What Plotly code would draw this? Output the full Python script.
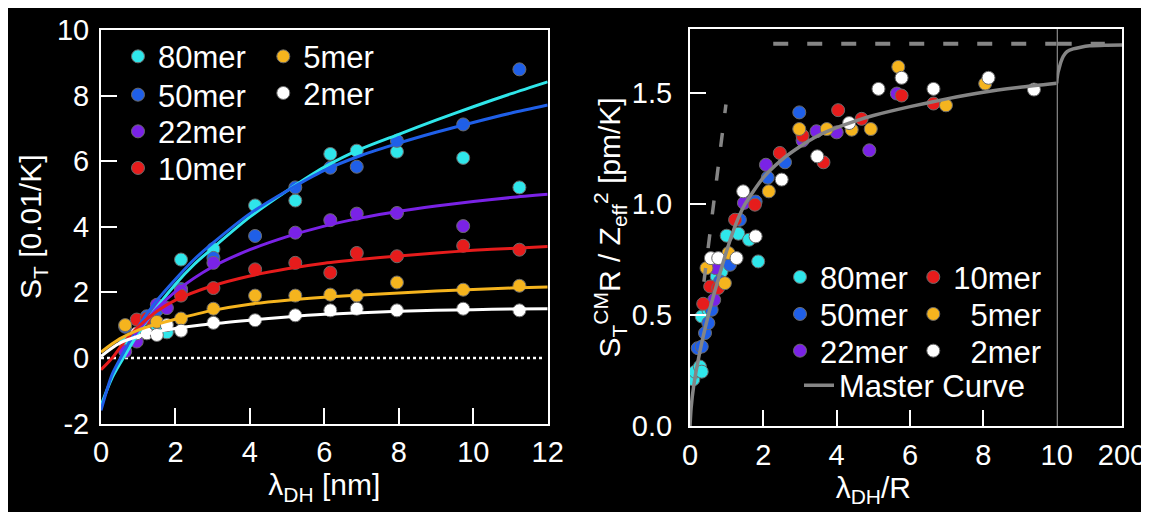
import plotly.graph_objects as go

# ---------------- data: left panel (S_T vs lambda_DH) ----------------
SERIES = ["80mer", "50mer", "22mer", "10mer", "5mer", "2mer"]
COLORS = ["#2fe6ea", "#1f5fe8", "#7a22e6", "#e61c1c", "#f5b41e", "#ffffff"]

pts80_x = [0.65, 1.5, 1.77, 2.15, 3.02, 4.14, 5.22, 6.16, 6.87, 7.95, 9.73, 11.24]
pts80_y = [0.47, 1.0, 0.78, 3.0, 3.32, 4.65, 4.8, 6.22, 6.32, 6.29, 6.1, 5.2]
pts50_x = [0.65, 1.23, 1.5, 2.15, 3.02, 4.14, 5.22, 6.16, 6.87, 7.95, 9.73, 11.24]
pts50_y = [0.95, 1.27, 1.45, 2.1, 3.05, 3.72, 5.2, 5.8, 5.83, 6.62, 7.12, 8.8]
pts22_x = [0.65, 0.96, 1.5, 1.77, 2.15, 3.02, 5.22, 6.16, 6.87, 7.95, 9.73]
pts22_y = [0.2, 0.5, 1.62, 1.52, 2.05, 2.9, 3.82, 4.2, 4.4, 4.42, 4.02]
pts10_x = [0.96, 1.23, 2.15, 3.02, 4.14, 5.22, 6.16, 6.87, 7.95, 9.73, 11.24]
pts10_y = [1.17, 1.2, 1.9, 2.13, 2.7, 2.9, 2.6, 3.2, 3.1, 3.42, 3.3]
pts5_x = [0.65, 1.5, 2.15, 3.02, 4.14, 5.22, 6.16, 6.87, 7.95, 9.73, 11.24]
pts5_y = [1.0, 1.1, 1.2, 1.5, 1.9, 1.9, 1.93, 1.9, 2.3, 2.08, 2.2]
pts2_x = [0.96, 1.23, 1.5, 1.77, 2.15, 3.02, 4.14, 5.22, 6.16, 6.87, 7.95, 9.73, 11.24]
pts2_y = [0.75, 0.75, 0.7, 1.0, 0.83, 1.07, 1.15, 1.3, 1.45, 1.5, 1.45, 1.5, 1.45]

fit80_x = [0, 0.3, 0.6, 1, 1.5, 2, 2.5, 3, 4, 5, 6, 7, 8, 9, 10, 11, 12]
fit80_y = [-1.45, -0.6, 0.0, 0.75, 1.55, 2.25, 2.85, 3.35, 4.3, 5.1, 5.82, 6.38, 6.82, 7.25, 7.66, 8.05, 8.42]
fit50_x = [0, 0.3, 0.6, 1, 1.5, 2, 2.5, 3, 4, 5, 6, 7, 8, 9, 10, 11, 12]
fit50_y = [-1.6, -0.5, 0.15, 0.95, 1.75, 2.4, 3.0, 3.5, 4.4, 5.1, 5.72, 6.18, 6.55, 6.88, 7.18, 7.46, 7.71]
fit22_x = [0.9, 1.5, 2, 3, 4, 5, 6, 7, 8, 9, 10, 11, 12]
fit22_y = [0.7, 1.5, 2.02, 2.78, 3.3, 3.7, 4.02, 4.27, 4.47, 4.63, 4.77, 4.89, 4.99]
fit10_x = [0, 0.3, 0.6, 1, 1.5, 2, 3, 4, 5, 6, 7, 8, 9, 10, 11, 12]
fit10_y = [-0.36, 0.0, 0.45, 0.95, 1.42, 1.76, 2.2, 2.5, 2.72, 2.89, 3.01, 3.11, 3.2, 3.28, 3.34, 3.4]
fit5_x = [0, 0.5, 1, 1.5, 2, 3, 4, 5, 6, 7, 8, 9, 10, 11, 12]
fit5_y = [0.18, 0.58, 0.85, 1.03, 1.18, 1.45, 1.64, 1.76, 1.85, 1.92, 1.98, 2.04, 2.09, 2.13, 2.16]
fit2_x = [0, 0.5, 1, 1.5, 2, 3, 4, 5, 6, 7, 8, 9, 10, 11, 12]
fit2_y = [0.05, 0.45, 0.66, 0.8, 0.9, 1.04, 1.15, 1.25, 1.33, 1.38, 1.42, 1.45, 1.47, 1.49, 1.5]

zero_x = [0, 11.88]
zero_y = [0, 0]

left_xticks = [0, 2, 4, 6, 8, 10, 12]
left_yticks = [-2, 0, 2, 4, 6, 8, 10]
left_yticktext = ["-2", "0", "2", "4", "6", "8", "10"]
left_ymarks = [2, 4, 6, 8]

# ---------------- data: right panel (master curve) ----------------
r80_x = [0.09, 0.14, 0.27, 0.32, 0.32, 0.50, 0.73, 0.86, 1.0, 1.32, 1.61, 1.86]
r80_y = [0.21, 0.245, 0.268, 0.245, 0.494, 0.524, 0.674, 0.697, 0.858, 0.867, 0.84, 0.742]
r50_x = [0.21, 0.32, 0.41, 0.50, 0.59, 0.82, 1.09, 1.36, 1.79, 2.12, 2.59, 2.98]
r50_y = [0.351, 0.358, 0.419, 0.464, 0.524, 0.652, 0.727, 0.93, 1.012, 1.12, 1.189, 1.414]
r22_x = [0.66, 0.70, 1.47, 2.07, 3.07, 3.45, 4.0, 4.89, 5.64]
r22_y = [0.569, 0.712, 1.006, 1.178, 1.287, 1.329, 1.324, 1.243, 1.499]
r10_x = [0.36, 0.55, 0.77, 1.23, 1.77, 2.45, 3.07, 3.64, 4.04, 4.68, 5.77, 6.64]
r10_y = [0.551, 0.629, 0.622, 0.93, 0.998, 1.231, 1.309, 1.189, 1.424, 1.385, 1.49, 1.454]
r5_x = [0.45, 0.95, 1.05, 2.15, 2.98, 3.73, 4.41, 4.93, 5.68, 6.98, 8.05]
r5_y = [0.712, 0.644, 0.78, 1.058, 1.339, 1.339, 1.336, 1.339, 1.619, 1.446, 1.544]
r2_x = [0.57, 0.77, 1.27, 1.45, 1.79, 2.5, 3.47, 4.34, 5.14, 5.77, 6.64, 8.14, 9.38]
r2_y = [0.757, 0.757, 0.757, 1.058, 0.855, 1.111, 1.216, 1.366, 1.52, 1.57, 1.52, 1.57, 1.517]

mc_x = [0, 0.03, 0.1, 0.25, 0.5, 0.75, 1.0, 1.25, 1.5, 2.0, 2.5, 3.0, 3.5, 4.0, 4.5, 5.0, 6.0, 7.0, 8.0, 9.0, 10.0]
mc_y = [0, 0.08, 0.18, 0.32, 0.5, 0.65, 0.79, 0.91, 1.0, 1.12, 1.2, 1.26, 1.31, 1.345, 1.375, 1.40, 1.44, 1.475, 1.505, 1.527, 1.545]
mc2_x = [10, 11, 14, 17.5, 22, 29, 40, 58, 80, 106, 150, 200]
mc2_y = [1.545, 1.565, 1.595, 1.615, 1.64, 1.667, 1.688, 1.70, 1.708, 1.714, 1.717, 1.718]

plateau_x1 = [2.27, 10]
plateau_x2 = [10, 150]
plateau_y = [1.723, 1.723]
slope_x = [0.38, 0.98]
slope_y = [0.65, 1.45]

BREAK_AT = 10
right_xticks = [0, 2, 4, 6, 8, 10]
right_x2ticks = [200]
right_yticks = [0.0, 0.5, 1.0, 1.5]

# ---------------- layout helpers ----------------
FONT = "Arial, Liberation Sans, Helvetica, sans-serif"
OFF = 8                      # page body margin that offsets the figure
W, H = 1149 - OFF, 518 - OFF
ML, MR, MT, MB = 93, 27, 21, 92
PW = W - ML - MR
PH = H - MT - MB


def pxx(px):
    return (px - OFF - ML) / PW


def pxy(py):
    return (H - MB - (py - OFF)) / PH


pts = [(pts80_x, pts80_y), (pts50_x, pts50_y), (pts22_x, pts22_y),
       (pts10_x, pts10_y), (pts5_x, pts5_y), (pts2_x, pts2_y)]
fits = [(fit80_x, fit80_y), (fit50_x, fit50_y), (fit22_x, fit22_y),
        (fit10_x, fit10_y), (fit5_x, fit5_y), (fit2_x, fit2_y)]
rpts = [(r80_x, r80_y), (r50_x, r50_y), (r22_x, r22_y),
        (r10_x, r10_y), (r5_x, r5_y), (r2_x, r2_y)]

# legend placement (symbol centre in page px)
left_leg = [(138, 56.7), (138, 95), (138, 131.7), (138, 168.3), (283.3, 56.7), (283.3, 93.3)]
right_leg = [(800, 277.3), (800, 314.3), (800, 351), (933.3, 277.3), (933.3, 314.3), (933.3, 351)]
right_names = ["80mer", "50mer", "22mer", "10mer", "\u00a0\u00a05mer", "\u00a0\u00a02mer"]
mc_leg = (819, 385.7)

fig = go.Figure()
legends = {}
leg_i = [0]


def new_legend(cx, cy):
    leg_i[0] += 1
    key = "legend" if leg_i[0] == 1 else f"legend{leg_i[0]}"
    legends[key] = dict(x=pxx(cx - 20), y=pxy(cy), xanchor="left", yanchor="middle",
                        bgcolor="rgba(0,0,0,0)", borderwidth=0,
                        font=dict(family=FONT, size=31, color="white"))
    return key


MK = dict(size=13, line=dict(width=1, color="#6a6a6a"))

# left panel: zero line, markers, fits
fig.add_trace(go.Scatter(x=zero_x, y=zero_y, mode="lines", showlegend=False,
                         line=dict(color="white", width=2.5, dash="dot"), xaxis="x", yaxis="y"))
for i, (name, col) in enumerate(zip(SERIES, COLORS)):
    key = new_legend(*left_leg[i])
    fig.add_trace(go.Scatter(x=pts[i][0], y=pts[i][1], mode="markers", name=name,
                             marker=dict(color=col, **MK), legend=key, xaxis="x", yaxis="y"))
for i, col in enumerate(COLORS):
    fig.add_trace(go.Scatter(x=fits[i][0], y=fits[i][1], mode="lines", showlegend=False,
                             line=dict(color=col, width=3, shape="spline", smoothing=0.8),
                             xaxis="x", yaxis="y"))

# right panel
for i, col in enumerate(COLORS):
    key = new_legend(*right_leg[i])
    fig.add_trace(go.Scatter(x=rpts[i][0], y=rpts[i][1], mode="markers", name=right_names[i],
                             marker=dict(color=col, **MK), legend=key, xaxis="x2", yaxis="y2"))

GRAY = "#858585"
key = new_legend(*mc_leg)
fig.add_trace(go.Scatter(x=mc_x, y=mc_y, mode="lines", name="Master Curve", legend=key,
                         line=dict(color=GRAY, width=3.5, shape="spline", smoothing=0.6),
                         xaxis="x2", yaxis="y2"))
fig.add_trace(go.Scatter(x=mc2_x, y=mc2_y, mode="lines", showlegend=False,
                         line=dict(color=GRAY, width=3.5, shape="spline", smoothing=0.6),
                         xaxis="x3", yaxis="y3"))
fig.add_trace(go.Scatter(x=plateau_x1, y=plateau_y, mode="lines", showlegend=False,
                         line=dict(color=GRAY, width=4, dash="15px,19px"), xaxis="x2", yaxis="y2"))
fig.add_trace(go.Scatter(x=plateau_x2, y=plateau_y, mode="lines", showlegend=False,
                         line=dict(color=GRAY, width=4, dash="15px,19px"), xaxis="x3", yaxis="y3"))
fig.add_trace(go.Scatter(x=slope_x, y=slope_y, mode="lines", showlegend=False,
                         line=dict(color=GRAY, width=3.5, dash="14px,20px"), xaxis="x2", yaxis="y2"))

TICKF = dict(family=FONT, size=29, color="white")
AX = dict(showgrid=False, zeroline=False, showline=True, linecolor="white", linewidth=2,
          ticks="inside", ticklen=16, tickwidth=2, tickcolor="white", tickfont=TICKF,
          automargin=False)
TITLEF = dict(family=FONT, size=30, color="white")

x_left_dom = [0, pxx(547.7)]
y_left_dom = [pxy(423.5), pxy(30)]
x2_dom = [pxx(690), pxx(1056.7)]
x3_dom = [pxx(1056.7), 1]

yaxis_left = dict(AX, domain=y_left_dom, range=[-2, 10], tickvals=left_yticks,
                  ticktext=left_yticktext, mirror=True, anchor="x", ticklabelstandoff=4,
                  title=dict(text="S<sub>T</sub> [0.01/K]", font=TITLEF, standoff=6))
yaxis_left["ticks"] = ""
yaxis_left["minor"] = dict(tickmode="array", tickvals=left_ymarks, ticks="inside",
                           ticklen=16, tickwidth=2, tickcolor="white", showgrid=False)

fig.update_layout(
    width=W, height=H,
    margin=dict(l=ML, r=MR, t=MT, b=MB, autoexpand=False),
    paper_bgcolor="white", plot_bgcolor="rgba(0,0,0,0)",
    font=dict(family=FONT, color="white"),
    xaxis=dict(AX, domain=x_left_dom, range=[0, 12], tickvals=left_xticks, mirror=True,
               anchor="y", ticklabelstandoff=2,
               title=dict(text="λ<sub>DH</sub> [nm]", font=TITLEF, standoff=6)),
    yaxis=yaxis_left,
    xaxis2=dict(AX, domain=x2_dom, range=[0, BREAK_AT], tickvals=right_xticks, mirror=True,
                anchor="y2", ticklabelstandoff=2,
                title=dict(text="λ<sub>DH</sub>/R", font=TITLEF, standoff=6)),
    yaxis2=dict(AX, domain=[0, 1], range=[0, 1.79], tickvals=right_yticks, tickformat=".1f",
                mirror=False, anchor="x2", ticklabelstandoff=10,
                title=dict(text="S<sub>T</sub><sup>CM</sup>R / Z<sub>eff</sub><sup>2</sup> [pm/K]",
                           font=TITLEF, standoff=2)),
    xaxis3=dict(AX, domain=x3_dom, range=[BREAK_AT, 200], tickvals=right_x2ticks, mirror=True,
                anchor="y3", ticklabelstandoff=2),
    yaxis3=dict(showgrid=False, zeroline=False, showline=True, linecolor="white", linewidth=2,
                domain=[0, 1], range=[0, 1.79], anchor="x3", side="right",
                showticklabels=False, ticks="", automargin=False),
    shapes=[
        dict(type="rect", xref="paper", yref="paper", x0=pxx(7), x1=pxx(1160),
             y0=pxy(512), y1=pxy(7), fillcolor="black", line=dict(width=0), layer="below"),
        dict(type="line", xref="x3", yref="paper", x0=BREAK_AT, x1=BREAK_AT, y0=0, y1=1,
             line=dict(color=GRAY, width=2.5), layer="above"),
    ],
    **legends,
)

fig.write_html("out.html")
